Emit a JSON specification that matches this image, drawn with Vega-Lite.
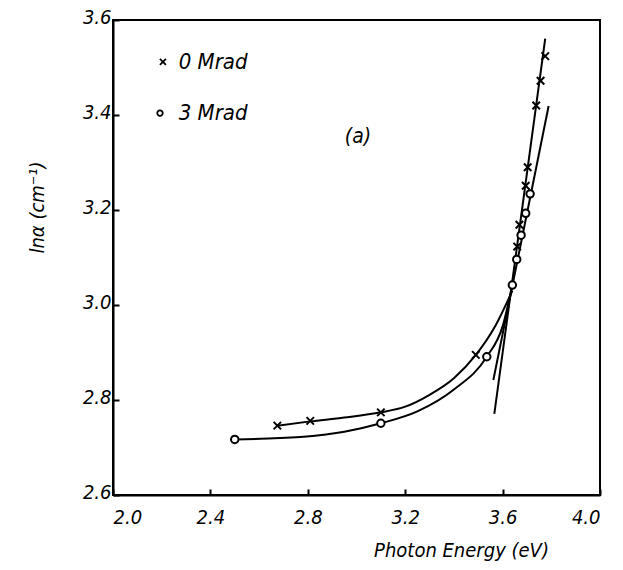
{
  "$schema": "https://vega.github.io/schema/vega-lite/v6.json",
  "autosize": {"type": "none"},
  "padding": {"left": 113, "top": 20, "right": 23, "bottom": 75},
  "width": 487,
  "height": 475,
  "background": "white",
  "config": {
    "view": {"stroke": "black", "strokeWidth": 2},
    "font": "DejaVu Sans Condensed, DejaVu Sans",
    "axis": {
      "domainColor": "black", "domainWidth": 2, "tickColor": "black", "tickWidth": 2,
      "labelFont": "DejaVu Sans Condensed, DejaVu Sans", "labelFontStyle": "italic", "labelColor": "black", "labelFontSize": 20,
      "titleFont": "DejaVu Sans Condensed, DejaVu Sans", "titleFontStyle": "italic", "titleFontWeight": "normal", "titleColor": "black", "titleFontSize": 20,
      "grid": false
    }
  },
  "datasets": {
    "main": [
      {"series": "0 Mrad", "kind": "pt", "E": 2.675, "lnA": 2.746},
      {"series": "0 Mrad", "kind": "pt", "E": 2.81, "lnA": 2.756},
      {"series": "0 Mrad", "kind": "pt", "E": 3.10, "lnA": 2.774},
      {"series": "0 Mrad", "kind": "pt", "E": 3.49, "lnA": 2.895},
      {"series": "0 Mrad", "kind": "pt", "E": 3.66, "lnA": 3.123},
      {"series": "0 Mrad", "kind": "pt", "E": 3.669, "lnA": 3.169},
      {"series": "0 Mrad", "kind": "pt", "E": 3.695, "lnA": 3.251},
      {"series": "0 Mrad", "kind": "pt", "E": 3.703, "lnA": 3.29},
      {"series": "0 Mrad", "kind": "pt", "E": 3.738, "lnA": 3.42},
      {"series": "0 Mrad", "kind": "pt", "E": 3.756, "lnA": 3.472},
      {"series": "0 Mrad", "kind": "pt", "E": 3.775, "lnA": 3.524},
      {"series": "3 Mrad", "kind": "pt", "E": 2.50, "lnA": 2.717},
      {"series": "3 Mrad", "kind": "pt", "E": 3.10, "lnA": 2.751},
      {"series": "3 Mrad", "kind": "pt", "E": 3.535, "lnA": 2.891},
      {"series": "3 Mrad", "kind": "pt", "E": 3.64, "lnA": 3.042},
      {"series": "3 Mrad", "kind": "pt", "E": 3.658, "lnA": 3.096},
      {"series": "3 Mrad", "kind": "pt", "E": 3.676, "lnA": 3.147},
      {"series": "3 Mrad", "kind": "pt", "E": 3.695, "lnA": 3.193},
      {"series": "3 Mrad", "kind": "pt", "E": 3.713, "lnA": 3.234},
      {"series": "0 Mrad", "kind": "fit", "E": 3.566, "lnA": 2.771},
      {"series": "0 Mrad", "kind": "fit", "E": 3.775, "lnA": 3.561},
      {"series": "3 Mrad", "kind": "fit", "E": 3.562, "lnA": 2.842},
      {"series": "3 Mrad", "kind": "fit", "E": 3.789, "lnA": 3.419},
      {"series": "0 Mrad", "kind": "curve", "E": 2.675, "lnA": 2.746},
      {"series": "0 Mrad", "kind": "curve", "E": 2.81, "lnA": 2.755},
      {"series": "0 Mrad", "kind": "curve", "E": 2.95, "lnA": 2.763},
      {"series": "0 Mrad", "kind": "curve", "E": 3.10, "lnA": 2.774},
      {"series": "0 Mrad", "kind": "curve", "E": 3.20, "lnA": 2.786},
      {"series": "0 Mrad", "kind": "curve", "E": 3.30, "lnA": 2.811},
      {"series": "0 Mrad", "kind": "curve", "E": 3.40, "lnA": 2.846},
      {"series": "0 Mrad", "kind": "curve", "E": 3.49, "lnA": 2.895},
      {"series": "0 Mrad", "kind": "curve", "E": 3.57, "lnA": 2.956},
      {"series": "0 Mrad", "kind": "curve", "E": 3.64, "lnA": 3.03},
      {"series": "3 Mrad", "kind": "curve", "E": 2.50, "lnA": 2.717},
      {"series": "3 Mrad", "kind": "curve", "E": 2.77, "lnA": 2.722},
      {"series": "3 Mrad", "kind": "curve", "E": 2.95, "lnA": 2.733},
      {"series": "3 Mrad", "kind": "curve", "E": 3.10, "lnA": 2.751},
      {"series": "3 Mrad", "kind": "curve", "E": 3.25, "lnA": 2.776},
      {"series": "3 Mrad", "kind": "curve", "E": 3.40, "lnA": 2.822},
      {"series": "3 Mrad", "kind": "curve", "E": 3.535, "lnA": 2.891},
      {"series": "3 Mrad", "kind": "curve", "E": 3.60, "lnA": 2.955},
      {"series": "3 Mrad", "kind": "curve", "E": 3.64, "lnA": 3.042}
    ],
    "legend": [
      {"series": "0 Mrad", "E": 2.205, "lnA": 3.512, "tE": 2.27},
      {"series": "3 Mrad", "E": 2.193, "lnA": 3.404, "tE": 2.27}
    ],
    "notes": [
      {"label": "(a)", "E": 3.006, "lnA": 3.354}
    ]
  },
  "layer": [
    {
      "data": {"name": "main"},
      "transform": [{"filter": "datum.kind === 'curve'"}],
      "mark": {"type": "line", "interpolate": "monotone", "color": "black", "strokeWidth": 2},
      "encoding": {
        "x": {"field": "E", "type": "quantitative", "scale": {"domain": [2.0, 4.0], "nice": false},
          "axis": {"values": [2.0, 2.4, 2.8, 3.2, 3.6, 4.0], "format": ".1f", "tickSize": -6, "labelPadding": 18, "title": "Photon Energy (eV)", "titleX": 348, "titleY": 45, "titleAnchor": "middle"}},
        "y": {"field": "lnA", "type": "quantitative", "scale": {"domain": [2.6, 3.6], "nice": false},
          "axis": {"values": [2.6, 2.8, 3.0, 3.2, 3.4, 3.6], "format": ".1f", "tickSize": -6, "labelPadding": 8, "labelOffset": -3, "title": "ln\u03b1 (cm\u207b\u00b9)", "titleAngle": -90, "titleX": -76, "titleY": 187, "titleAlign": "center", "titleBaseline": "middle"}},
        "detail": {"field": "series"},
        "order": {"field": "E", "type": "quantitative"}
      }
    },
    {
      "data": {"name": "main"},
      "transform": [{"filter": "datum.kind === 'fit'"}],
      "mark": {"type": "line", "color": "black", "strokeWidth": 2},
      "encoding": {
        "x": {"field": "E", "type": "quantitative"},
        "y": {"field": "lnA", "type": "quantitative"},
        "detail": {"field": "series"}
      }
    },
    {
      "data": {"name": "main"},
      "transform": [{"filter": "datum.kind === 'pt' && datum.series === '0 Mrad'"}],
      "mark": {"type": "point", "shape": "M-1,-1L1,1M-1,1L1,-1", "filled": false, "stroke": "black", "strokeWidth": 2, "size": 56, "opacity": 1},
      "encoding": {
        "x": {"field": "E", "type": "quantitative"},
        "y": {"field": "lnA", "type": "quantitative"}
      }
    },
    {
      "data": {"name": "main"},
      "transform": [{"filter": "datum.kind === 'pt' && datum.series === '3 Mrad'"}],
      "mark": {"type": "point", "shape": "circle", "filled": true, "fill": "white", "stroke": "black", "strokeWidth": 2, "size": 55, "opacity": 1, "fillOpacity": 1},
      "encoding": {
        "x": {"field": "E", "type": "quantitative"},
        "y": {"field": "lnA", "type": "quantitative"}
      }
    },
    {
      "data": {"name": "legend"},
      "transform": [{"filter": "datum.series === '0 Mrad'"}],
      "mark": {"type": "point", "shape": "M-1,-1L1,1M-1,1L1,-1", "filled": false, "stroke": "black", "strokeWidth": 1.8, "size": 36, "opacity": 1},
      "encoding": {
        "x": {"field": "E", "type": "quantitative"},
        "y": {"field": "lnA", "type": "quantitative"}
      }
    },
    {
      "data": {"name": "legend"},
      "transform": [{"filter": "datum.series === '3 Mrad'"}],
      "mark": {"type": "point", "shape": "circle", "filled": false, "stroke": "black", "strokeWidth": 1.8, "size": 30, "opacity": 1},
      "encoding": {
        "x": {"field": "E", "type": "quantitative"},
        "y": {"field": "lnA", "type": "quantitative"}
      }
    },
    {
      "data": {"name": "legend"},
      "mark": {"type": "text", "align": "left", "baseline": "middle", "font": "DejaVu Sans Condensed, DejaVu Sans", "fontStyle": "italic", "fontSize": 22, "color": "black"},
      "encoding": {
        "x": {"field": "tE", "type": "quantitative"},
        "y": {"field": "lnA", "type": "quantitative"},
        "text": {"field": "series"}
      }
    },
    {
      "data": {"name": "notes"},
      "mark": {"type": "text", "align": "center", "baseline": "middle", "font": "DejaVu Sans Condensed, DejaVu Sans", "fontStyle": "italic", "fontSize": 21, "color": "black"},
      "encoding": {
        "x": {"field": "E", "type": "quantitative"},
        "y": {"field": "lnA", "type": "quantitative"},
        "text": {"field": "label"}
      }
    }
  ]
}
